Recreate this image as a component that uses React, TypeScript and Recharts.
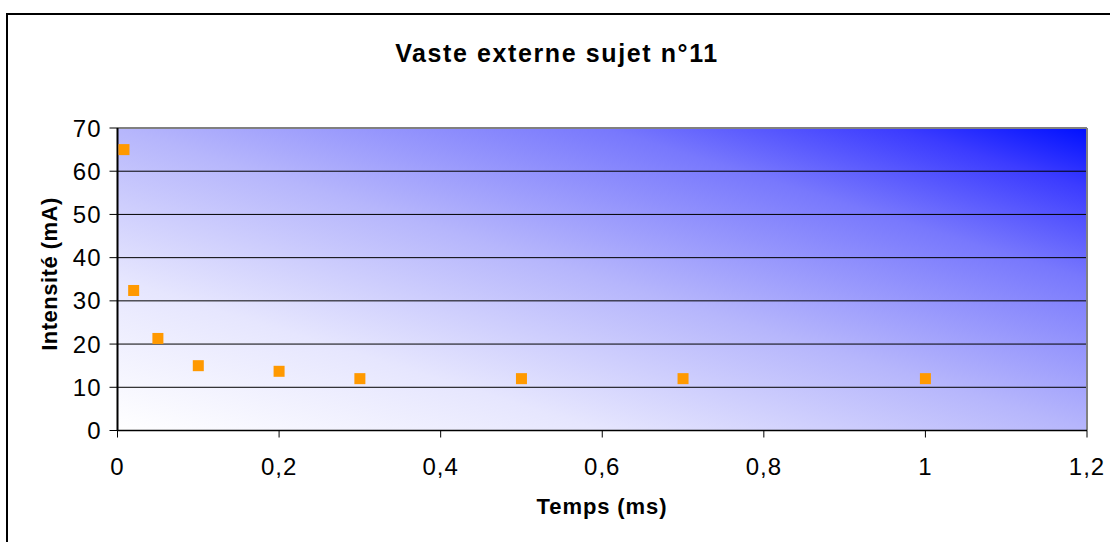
import React from 'react';
import {
  ScatterChart,
  Scatter,
  XAxis,
  YAxis,
  CartesianGrid,
  ReferenceLine,
} from 'recharts';

const timeValues = [0.008, 0.02, 0.05, 0.1, 0.2, 0.3, 0.5, 0.7, 1];
const intensityValues = [65, 32.4, 21.3, 15, 13.7, 12, 12, 12, 12];
const xTicks = [0, 0.2, 0.4, 0.6, 0.8, 1, 1.2];
const yTicks = [0, 10, 20, 30, 40, 50, 60, 70];
const titleText = 'Vaste externe sujet n°11';
const xLabelText = 'Temps (ms)';
const yLabelText = 'Intensité (mA)';

const data = timeValues.map((t, i) => ({ t, v: intensityValues[i] }));

const FONT = '"Liberation Sans", Arial, sans-serif';

const SquareShape = (props: any) => {
  const { cx, cy } = props;
  if (cx == null || cy == null) return null;
  return <rect x={cx - 5.5} y={cy - 5.5} width={11} height={11} fill="#FF9900" />;
};

export default function App() {
  return (
    <div style={{ position: 'absolute', left: 0, top: 0, width: 1110, height: 542, background: '#fff', overflow: 'hidden' }}>
      <ScatterChart
        width={1110}
        height={542}
        margin={{ top: 128, right: 23, bottom: 71.5, left: 57.5 }}
      >
        <defs>
          <linearGradient id="plotGrad" x1="0" y1="1" x2="1" y2="0">
            <stop offset="0%" stopColor="#ffffff" />
            <stop offset="25%" stopColor="#e6e6fe" />
            <stop offset="50%" stopColor="#b6b6fc" />
            <stop offset="75%" stopColor="#7878fd" />
            <stop offset="90%" stopColor="#3c3cff" />
            <stop offset="100%" stopColor="#0010ff" />
          </linearGradient>
        </defs>
        <CartesianGrid
          vertical={false}
          stroke="#000"
          strokeWidth={1}
          fill="url(#plotGrad)"
          fillOpacity={1}
        />
        <ReferenceLine y={70} stroke="#808080" strokeWidth={2} />
        <ReferenceLine x={1.2} stroke="#808080" strokeWidth={2} />
        <XAxis
          type="number"
          dataKey="t"
          domain={[0, 1.2]}
          ticks={xTicks}
          interval={0}
          allowDataOverflow
          tickFormatter={(v: number) => String(v).replace('.', ',')}
          tickSize={7}
          tickMargin={20}
          height={40}
          axisLine={{ stroke: '#000', strokeWidth: 1.5 }}
          tickLine={{ stroke: '#000', strokeWidth: 1 }}
          tick={{ fill: '#000', fontSize: 24, fontFamily: FONT, letterSpacing: 1 }}
        />
        <YAxis
          type="number"
          dataKey="v"
          domain={[0, 70]}
          ticks={yTicks}
          interval={0}
          allowDataOverflow
          tickSize={8}
          tickMargin={8}
          width={60}
          axisLine={{ stroke: '#000', strokeWidth: 2 }}
          tickLine={{ stroke: '#000', strokeWidth: 1 }}
          tick={{ fill: '#000', fontSize: 24, fontFamily: FONT, letterSpacing: 1 }}
        />
        <Scatter data={data} isAnimationActive={false} shape={SquareShape} />
      </ScatterChart>
      <svg
        width={1110}
        height={542}
        style={{ position: 'absolute', left: 0, top: 0, pointerEvents: 'none' }}
      >
        <rect x={7} y={14} width={1200} height={600} fill="none" stroke="#000" strokeWidth={2} />
        <text
          x={557}
          y={62}
          textAnchor="middle"
          fontFamily={FONT}
          fontWeight="bold"
          fontSize={25}
          letterSpacing={1.6}
          fill="#000"
        >
          {titleText}
        </text>
        <text
          x={602}
          y={514}
          textAnchor="middle"
          fontFamily={FONT}
          fontWeight="bold"
          fontSize={22}
          letterSpacing={0.9}
          fill="#000"
        >
          {xLabelText}
        </text>
        <text
          x={57}
          y={274}
          transform="rotate(-90, 57, 274)"
          textAnchor="middle"
          fontFamily={FONT}
          fontWeight="bold"
          fontSize={22}
          letterSpacing={0.5}
          fill="#000"
        >
          {yLabelText}
        </text>
      </svg>
    </div>
  );
}
